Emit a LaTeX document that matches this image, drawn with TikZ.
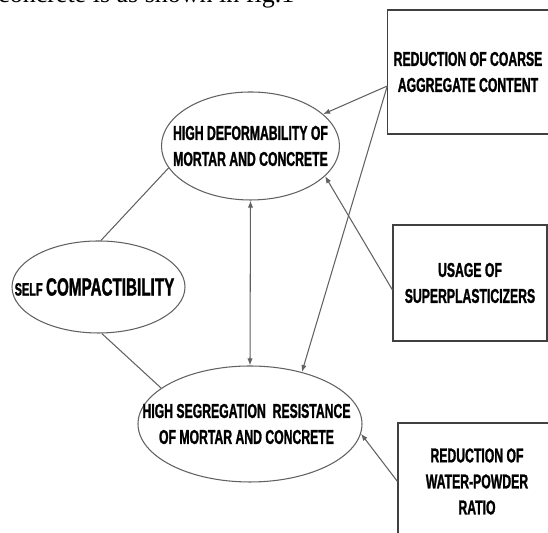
\documentclass[tikz,border=0pt]{standalone}
\usepackage{fontspec}
\usepackage{tikz}
\usetikzlibrary{shapes.geometric,arrows.meta}
\setmainfont{Liberation Serif}
\newfontfamily\boxfont[FakeStretch=0.61, FakeBold=1.2]{Liberation Sans Bold}
\definecolor{linegray}{rgb}{0.38, 0.38, 0.38}
\definecolor{boxgray}{rgb}{0.25, 0.25, 0.25}

\begin{document}
\begin{tikzpicture}[
  oval/.style={draw=linegray, ellipse, inner sep=0pt, line width=0.6pt},
  box/.style={draw=boxgray, rectangle, line width=0.6pt, align=center,
    font=\boxfont\fontsize{11.4}{14.8}\selectfont},
  txt/.style={align=center, font=\boxfont\fontsize{11.4}{14.8}\selectfont},
  link/.style={draw=linegray, line width=0.6pt},
  arr/.style={link, -{Latex[length=4pt,width=3pt]}},
  arrs/.style={link, {Latex[length=4pt,width=3pt]}-{Latex[length=4pt,width=3pt]}}]
\useasboundingbox (0, 0) rectangle (10.96, 10.66);
\clip (0, 0) rectangle (10.96, 10.66);
\node [anchor=base west, font=\fontsize{14.8}{17}\selectfont] (caption) at (-0.16, 10.60) {concrete is as shown in fig.1};
\node [box, minimum width=3.16cm, minimum height=2.48cm] (coarse) at (9.36, 9.22) {REDUCTION OF COARSE\\AGGREGATE CONTENT};
\node [box, minimum width=3.08cm, minimum height=2.32cm] (superp) at (9.40, 5.00) {USAGE OF\\SUPERPLASTICIZERS};
\node [box, minimum width=3.16cm, minimum height=2.34cm] (water) at (9.54, 1.03) {REDUCTION OF\\WATER-POWDER\\RATIO};
\node [oval, minimum width=3.56cm, minimum height=2.16cm] (deform) at (5.01, 7.74) {};
\node [txt] (deformtxt) at (deform) {HIGH DEFORMABILITY OF\\MORTAR AND CONCRETE};
\node [oval, minimum width=3.46cm, minimum height=1.84cm] (self) at (1.97, 4.92) {};
\node [txt] (selftxt) at (1.89, 4.92) {{\fontsize{10.2}{12}\selectfont SELF} {\fontsize{14.2}{16}\selectfont COMPACTIBILITY}};
\node [oval, minimum width=4.48cm, minimum height=2.32cm] (segreg) at (5.00, 2.18) {};
\node [txt] (segregtxt) at (4.93, 2.18) {HIGH SEGREGATION\ \ RESISTANCE\\OF MORTAR AND CONCRETE};
\coordinate (coarseout) at ([yshift=-0.28cm]coarse.west);
\draw [link] (deform.195) -- (self.87);
\draw [link] (self.274) -- (segreg.158);
\draw [arrs] (deform.south) -- (segreg.north);
\draw [arr] (coarseout) -- (deform);
\draw [arr] (coarseout) -- (segreg.45);
\draw [arr] ([yshift=-0.14cm]superp.west) -- (deform.338);
\draw [arr] (water.west) -- (segreg.355);
\end{tikzpicture}
\end{document}
